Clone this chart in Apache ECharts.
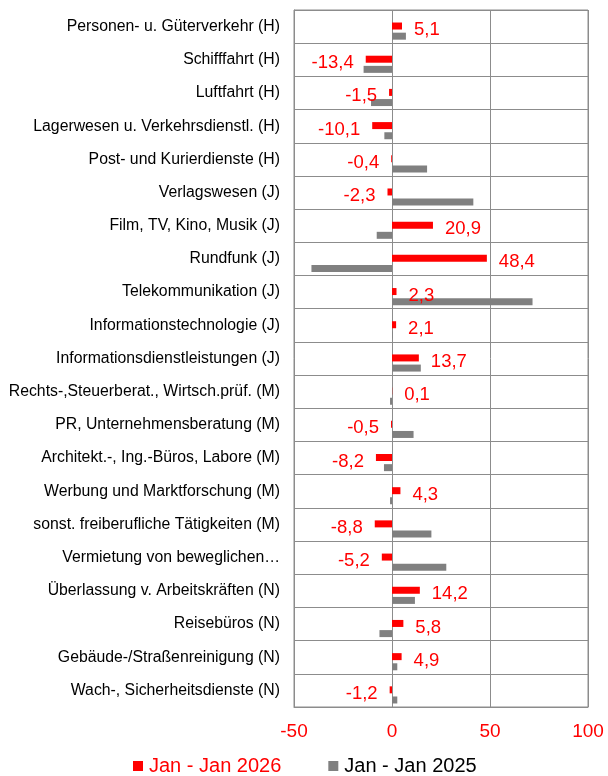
<!DOCTYPE html>
<html>
<head>
<meta charset="utf-8">
<script src="https://cdn.jsdelivr.net/npm/echarts@6/dist/echarts.min.js"></script>
<style>
  html, body { margin: 0; padding: 0; background: #fff; }
  #chartBox { width: 608px; height: 776px; }
</style>
</head>
<body>
<div id="chartBox"></div>
<script>
// Branchen
var categories = [
  'Personen- u. Güterverkehr (H)',
  'Schifffahrt (H)',
  'Luftfahrt (H)',
  'Lagerwesen u. Verkehrsdienstl. (H)',
  'Post- und Kurierdienste (H)',
  'Verlagswesen (J)',
  'Film, TV, Kino, Musik (J)',
  'Rundfunk (J)',
  'Telekommunikation (J)',
  'Informationstechnologie (J)',
  'Informationsdienstleistungen (J)',
  'Rechts-,Steuerberat., Wirtsch.prüf. (M)',
  'PR, Unternehmensberatung (M)',
  'Architekt.-, Ing.-Büros, Labore (M)',
  'Werbung und Marktforschung (M)',
  'sonst. freiberufliche Tätigkeiten (M)',
  'Vermietung von beweglichen…',
  'Überlassung v. Arbeitskräften (N)',
  'Reisebüros (N)',
  'Gebäude-/Straßenreinigung (N)',
  'Wach-, Sicherheitsdienste (N)'
]
var jan2026 = [5.1, -13.4, -1.5, -10.1, -0.4, -2.3, 20.9, 48.4, 2.3, 2.1, 13.7,
  0.1, -0.5, -8.2, 4.3, -8.8, -5.2, 14.2, 5.8, 4.9, -1.2]
var jan2025 = [7.1, -14.5, -10.7, -3.9, 17.9, 41.5, -7.8, -41.1, 71.7, 0.3, 14.7,
  -1.0, 11.0, -4.1, -1.0, 20.1, 27.7, 11.7, -6.4, 2.7, 2.7]
var xTicks = [-50, 0, 50, 100]

var lineColor = '#8c8c8c'
var font = 'Liberation Sans, Arial, sans-serif'

var myChart = echarts.init(document.getElementById('chartBox'))
myChart.setOption({
  animation: false,
  legend: {
    left: 128,
    top: 751,
    itemWidth: 10,
    itemHeight: 10,
    itemGap: 47,
    icon: 'rect',
    data: [
      { name: 'Jan - Jan 2026', textStyle: { color: '#ff0000' } },
      { name: 'Jan - Jan 2025', textStyle: { color: '#000' } }
    ],
    textStyle: { fontFamily: font, fontSize: 20, padding: [0, 0, 0, 1] }
  },
  grid: [
    { left: 294, right: 20, top: 10, bottom: 69, show: true, borderColor: lineColor, borderWidth: 1 },
    // Balken etwas nach unten versetzt
    { left: 294, right: 20, top: 14.5, bottom: 64.5 }
  ],
  xAxis: [
    {
      gridIndex: 0,
      type: 'value',
      min: xTicks[0],
      max: xTicks[xTicks.length - 1],
      interval: 50,
      axisLine: { show: true, lineStyle: { color: lineColor } },
      axisTick: { show: false },
      splitLine: { show: true, lineStyle: { color: lineColor, width: 1 } },
      axisLabel: { color: '#ff0000', fontSize: 19, fontFamily: font, margin: 15 }
    },
    {
      gridIndex: 1,
      type: 'value',
      min: xTicks[0],
      max: xTicks[xTicks.length - 1],
      show: false
    }
  ],
  yAxis: [
    {
      gridIndex: 0,
      type: 'category',
      inverse: true,
      data: categories,
      axisLine: { show: true, onZero: false, lineStyle: { color: lineColor } },
      axisTick: { show: false },
      splitLine: { show: true, lineStyle: { color: lineColor, width: 1 } },
      axisLabel: { color: '#000', fontSize: 15.8, fontFamily: font, margin: 14 }
    },
    {
      gridIndex: 1,
      type: 'category',
      inverse: true,
      data: categories,
      show: false
    }
  ],
  series: [
    {
      name: 'Jan - Jan 2026',
      type: 'bar',
      xAxisIndex: 1,
      yAxisIndex: 1,
      barWidth: 7,
      barGap: '45%',
      itemStyle: { color: '#ff0000' },
      label: {
        show: true,
        color: '#ff0000',
        fontSize: 18.5,
        fontFamily: font,
        distance: 12,
        offset: [0, 4],
        formatter: function (p) {
          return p.value.toFixed(1).replace('.', ',')
        }
      },
      data: jan2026.map(function (v) {
        return { value: v, label: { position: v < 0 ? 'left' : 'right' } }
      })
    },
    {
      name: 'Jan - Jan 2025',
      type: 'bar',
      xAxisIndex: 1,
      yAxisIndex: 1,
      barWidth: 7,
      itemStyle: { color: '#808080' },
      data: jan2025
    }
  ]
})
</script>
</body>
</html>
